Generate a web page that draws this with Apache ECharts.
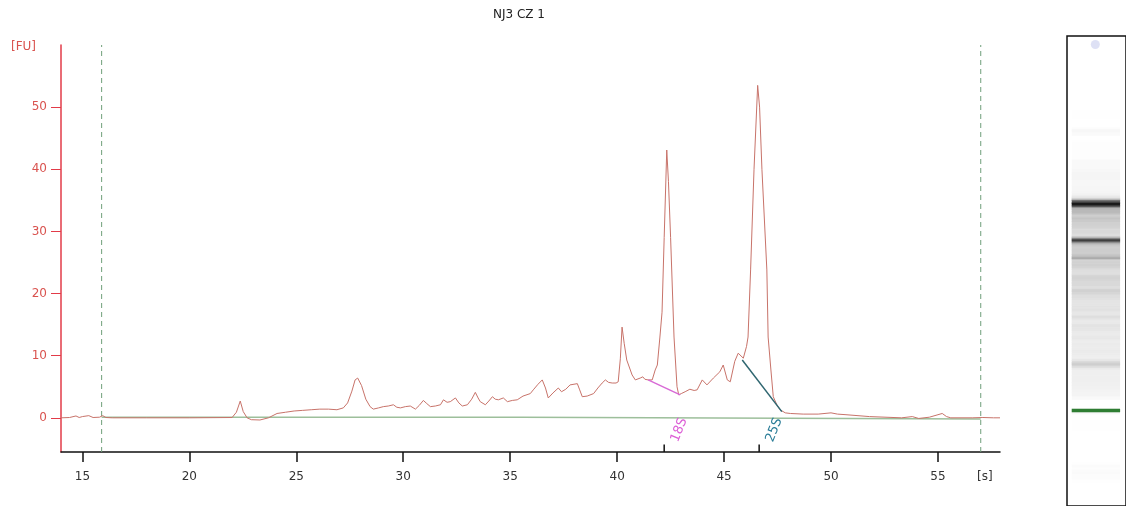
<!DOCTYPE html>
<html>
<head>
<meta charset="utf-8">
<script src="https://cdn.jsdelivr.net/npm/echarts@6/dist/echarts.min.js"></script>
<style>html,body{margin:0;padding:0;background:#fff}#c{width:1126px;height:506px}</style>
</head>
<body>
<div id="c"></div>
<script>
// ---- data ----
const chartTitle = 'NJ3 CZ 1';
const xTicks = [15, 20, 25, 30, 35, 40, 45, 50, 55];
const yTicks = [0, 10, 20, 30, 40, 50];
const xUnit = '[s]';
const yUnit = '[FU]';
// electropherogram trace [time s, FU]
const trace = [[14.0,0],[14.4,0.05],[14.7,0.3],[14.85,0.05],[15.0,0.2],[15.3,0.35],[15.5,0.05],[15.8,0.1],[15.95,0.35],[16.1,0.05],[16.4,0],[18,0],[20,0],[22.0,0.05],[22.2,0.9],[22.38,2.7],[22.52,1.0],[22.7,0],[22.9,-0.3],[23.3,-0.35],[23.7,0],[24.1,0.7],[24.5,0.9],[24.9,1.1],[25.3,1.2],[25.7,1.3],[26.1,1.4],[26.5,1.4],[26.9,1.3],[27.2,1.6],[27.4,2.4],[27.6,4.3],[27.75,6.1],[27.87,6.4],[28.05,5.2],[28.25,3.0],[28.45,1.8],[28.6,1.4],[28.85,1.6],[29.07,1.8],[29.3,1.9],[29.54,2.1],[29.7,1.7],[29.87,1.6],[30.1,1.8],[30.33,1.9],[30.57,1.4],[30.75,2.0],[30.94,2.8],[31.1,2.3],[31.27,1.8],[31.5,1.9],[31.74,2.1],[31.88,2.9],[32.05,2.5],[32.2,2.6],[32.44,3.2],[32.6,2.4],[32.76,1.9],[33.0,2.1],[33.2,3.0],[33.37,4.1],[33.5,3.2],[33.6,2.6],[33.84,2.1],[34.0,2.7],[34.17,3.4],[34.3,3.0],[34.45,2.9],[34.68,3.2],[34.87,2.6],[35.1,2.8],[35.33,2.9],[35.6,3.5],[35.94,3.9],[36.08,4.5],[36.3,5.4],[36.5,6.1],[36.65,4.8],[36.78,3.2],[37.0,4.0],[37.25,4.8],[37.4,4.2],[37.6,4.6],[37.8,5.3],[38.14,5.5],[38.25,4.5],[38.37,3.4],[38.6,3.5],[38.9,3.9],[39.1,4.8],[39.3,5.6],[39.45,6.1],[39.6,5.7],[39.77,5.6],[39.95,5.6],[40.05,5.8],[40.15,9.5],[40.23,14.6],[40.33,12.0],[40.45,9.3],[40.7,6.9],[40.85,6.1],[41.08,6.4],[41.2,6.6],[41.3,6.2],[41.45,6.1],[41.64,6.1],[41.78,7.7],[41.88,8.5],[42.0,13],[42.1,17],[42.2,29],[42.32,43.1],[42.4,38],[42.5,29],[42.66,13],[42.8,5.0],[42.88,3.7],[43.0,3.9],[43.18,4.2],[43.4,4.6],[43.6,4.4],[43.74,4.5],[43.98,6.1],[44.2,5.3],[44.5,6.4],[44.8,7.4],[44.96,8.5],[45.15,6.1],[45.29,5.8],[45.5,9.1],[45.66,10.4],[45.9,9.6],[46.05,11.5],[46.12,13],[46.24,23.8],[46.4,40],[46.57,53.5],[46.66,50],[46.77,40],[47.0,23.8],[47.06,13],[47.19,7.7],[47.3,3.4],[47.48,2.0],[47.62,1.3],[47.86,0.8],[48.1,0.7],[48.7,0.6],[49.4,0.6],[50.0,0.8],[50.3,0.6],[50.7,0.5],[51.8,0.2],[53.3,0],[53.8,0.2],[54.1,-0.1],[54.6,0.1],[55.0,0.5],[55.2,0.7],[55.4,0.2],[55.6,0],[56.6,0],[57.1,0.05],[57.6,0],[57.9,0]];
// analysis baseline
const baseline = [[15.9,0.1],[35.5,0.1],[35.5,-0.2],[57.0,-0.2]];
// analysis window (start / end)
const windowTimes = [15.9, 57.0];
// peaks
const peakNames = ['18S', '25S'];
const peakTimes = [42.2, 46.64];
const peakBaseStart = [[41.45, 6.1], [45.85, 9.3]];
const peakBaseEnd = [[42.95, 3.7], [47.7, 1.0]];
// gel: lower marker time and sample well
const gelMarkerTime = 22.38;
const gelWellTime = 65.2;

// ---- chart ----
const YMIN = -5.5, YMAX = 60, XMIN = 14, XMAX = 57.9;
const peakColors = ['#dc5fd6', '#2b7d98'];
const font = 'DejaVu Sans';

const series = [];
series.push({type:'line', data: baseline, symbol:'none', silent:true, z:2,
  lineStyle:{color:'#9dbf9b', width:1.5}});
windowTimes.forEach(t => series.push({type:'line', data:[[t,YMIN],[t,YMAX]], symbol:'none', silent:true, z:1,
  lineStyle:{color:'#6f9f7a', width:1, type:[5,4]}}));
series.push({type:'line', data: trace, symbol:'none', silent:true, z:4,
  lineStyle:{color:'#c8736a', width:1}});
peakNames.forEach((n, i) => {
  series.push({type:'line', data:[peakBaseStart[i], peakBaseEnd[i]], symbol:'none', silent:true, z:5,
    lineStyle:{color: i === 0 ? '#d86ad6' : '#2f6670', width:1.5}});
  series.push({type:'line', data:[[peakTimes[i], YMIN],[peakTimes[i], YMIN + 1.2]], symbol:'none', silent:true, z:5,
    lineStyle:{color:'#111', width:1.5}});
});
series.push({type:'custom', silent:true, z:6,
  data: peakTimes.map((t, i) => [t, YMIN, i]),
  renderItem: function(params, api){
    const p = api.coord([api.value(0), api.value(1)]);
    const i = api.value(2);
    return {type:'text', x:p[0] + 15, y:p[1] - 22, rotation: 68 * Math.PI / 180,
      style:{text: peakNames[i], fill: peakColors[i], font:'13px "DejaVu Sans"', align:'center', verticalAlign:'middle'}};
  }});

// gel lane
function grayFor(v){
  const d = Math.pow(Math.min(1, Math.max(0, v) / 56), 0.75);
  const g = Math.round(255 * (1 - d));
  return 'rgb('+g+','+g+','+g+')';
}
series.push({type:'custom', xAxisIndex:1, yAxisIndex:1, silent:true, z:2,
  data: trace.slice(0, -1).map((p, i) => [p[0], trace[i+1][0], (p[1] + trace[i+1][1]) / 2]),
  renderItem: function(params, api){
    const a = api.coord([0.08, api.value(0)]);
    const b = api.coord([0.9, api.value(1)]);
    return {type:'rect', shape:{x:a[0], y:b[1], width:b[0]-a[0], height:Math.max(1, a[1]-b[1]+0.5)},
      style:{fill: grayFor(api.value(2))}};
  }});
series.push({type:'custom', xAxisIndex:1, yAxisIndex:1, silent:true, z:3,
  data:[[gelMarkerTime]],
  renderItem: function(params, api){
    const a = api.coord([0.08, api.value(0) + 0.2]);
    const b = api.coord([0.9, api.value(0) - 0.2]);
    return {type:'rect', shape:{x:a[0], y:a[1], width:b[0]-a[0], height:b[1]-a[1]}, style:{fill:'#2e7d32'}};
  }});
series.push({type:'scatter', xAxisIndex:1, yAxisIndex:1, data:[[0.48, gelWellTime]], symbolSize:9, silent:true,
  itemStyle:{color:'#d6d9f3'}});

const option = {
  animation:false,
  backgroundColor:'#fff',
  title:{text:chartTitle, left:514, top:4, textAlign:'center',
    textStyle:{fontSize:12, fontWeight:'normal', color:'#222', fontFamily:font}},
  grid:[
    {left:61, top:45, width:939, height:407},
    {left:1067, top:36, width:62, height:472, show:true, borderColor:'#111', borderWidth:1.5, backgroundColor:'#fff'}
  ],
  xAxis:[
    {type:'value', gridIndex:0, min:XMIN, max:XMAX,
      axisLine:{onZero:false, lineStyle:{color:'#111', width:1.5}},
      axisTick:{customValues:xTicks, length:10, lineStyle:{color:'#111', width:1.5}},
      axisLabel:{customValues:xTicks, color:'#333', fontSize:12, margin:19, fontFamily:font},
      splitLine:{show:false}},
    {type:'value', gridIndex:1, min:0, max:1, show:false}
  ],
  yAxis:[
    {type:'value', gridIndex:0, min:YMIN, max:YMAX,
      axisLine:{show:true, onZero:false, lineStyle:{color:'#e23b48', width:1.5}},
      axisTick:{show:true, customValues:yTicks, length:10, lineStyle:{color:'#e23b48', width:1}},
      axisLabel:{customValues:yTicks, color:'#d9534f', fontSize:12, margin:14, fontFamily:font},
      splitLine:{show:false}},
    {type:'value', gridIndex:1, min:11.2, max:66.2, show:false}
  ],
  graphic:[
    {type:'text', left:11, top:41, style:{text:yUnit, fill:'#d9534f', font:'12px "DejaVu Sans"'}},
    {type:'text', left:977, top:471, style:{text:xUnit, fill:'#333', font:'12px "DejaVu Sans"'}}
  ],
  series: series
};
const chart = echarts.init(document.getElementById('c'), null, {renderer:'canvas'});
chart.setOption(option);
</script>
</body>
</html>
